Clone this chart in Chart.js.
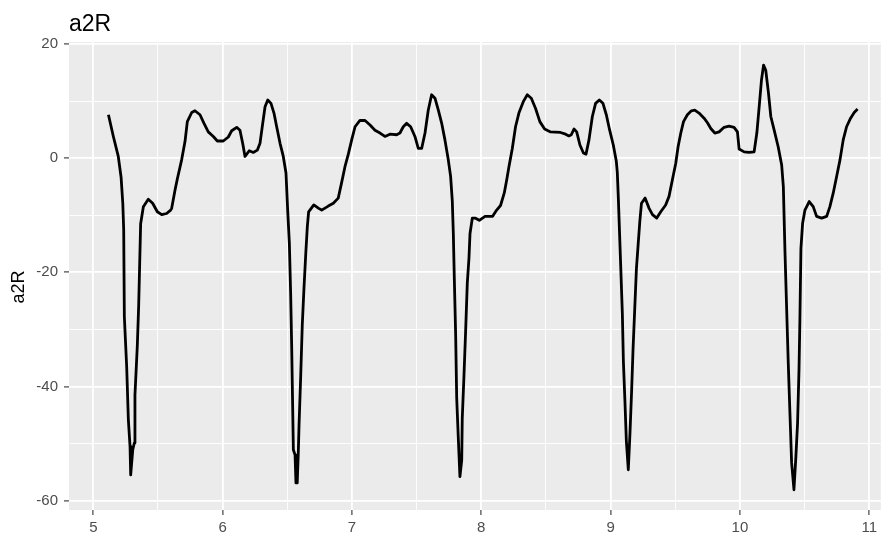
<!DOCTYPE html>
<html><head><meta charset="utf-8">
<script src="https://cdn.jsdelivr.net/npm/chart.js@4.4.1/dist/chart.umd.min.js"></script>
<style>html,body{margin:0;padding:0;background:#fff;} canvas{display:block;}</style>
</head><body>
<canvas id="c" width="881" height="538"></canvas>
<script>
const chartTitle = 'a2R';
const yAxisLabel = 'a2R';
const xMajorTicks = [5, 6, 7, 8, 9, 10, 11];
const xMinorTicks = [5.5, 6.5, 7.5, 8.5, 9.5, 10.5];
const yMajorTicks = [-60, -40, -20, 0, 20];
const yMinorTicks = [-50, -30, -10, 10];

const timeX = [
5.117,5.155,5.193,5.215,5.228,5.235,5.240,5.258,5.271,5.284,5.289,5.305,5.317,5.322,5.340,5.351,5.359,5.366,5.387,5.425,
5.459,5.495,5.529,5.567,5.598,5.606,5.632,5.650,5.683,5.709,5.727,5.761,5.786,5.825,5.856,5.889,5.928,5.959,6.005,6.044,
6.070,6.109,6.134,6.155,6.173,6.206,6.237,6.268,6.289,6.310,6.328,6.349,6.374,6.397,6.418,6.444,6.469,6.490,6.503,6.516,
6.526,6.534,6.547,6.560,6.567,6.577,6.585,6.591,6.604,6.616,6.629,6.643,6.655,6.665,6.705,6.743,6.766,6.817,6.856,6.894,
6.921,6.946,6.972,6.998,7.024,7.062,7.101,7.140,7.178,7.217,7.255,7.294,7.346,7.371,7.397,7.423,7.454,7.487,7.513,7.539,
7.565,7.590,7.616,7.642,7.668,7.694,7.719,7.745,7.763,7.776,7.784,7.791,7.802,7.810,7.822,7.835,7.849,7.853,7.866,7.879,
7.892,7.905,7.913,7.931,7.952,7.985,8.029,8.088,8.119,8.149,8.178,8.197,8.214,8.240,8.265,8.291,8.325,8.356,8.387,8.420,
8.453,8.490,8.536,8.613,8.652,8.678,8.696,8.717,8.738,8.763,8.790,8.810,8.833,8.859,8.884,8.913,8.941,8.967,8.993,9.021,
9.044,9.052,9.060,9.070,9.078,9.091,9.099,9.111,9.122,9.137,9.150,9.163,9.174,9.187,9.200,9.213,9.226,9.239,9.267,9.298,
9.324,9.357,9.388,9.426,9.452,9.478,9.504,9.522,9.543,9.564,9.594,9.625,9.651,9.684,9.723,9.749,9.775,9.806,9.839,9.878,
9.916,9.955,9.981,9.994,10.033,10.071,10.110,10.131,10.149,10.167,10.183,10.200,10.221,10.239,10.265,10.296,10.323,10.336,10.349,10.361,
10.374,10.387,10.400,10.418,10.433,10.446,10.457,10.464,10.472,10.485,10.503,10.536,10.567,10.593,10.632,10.671,10.696,10.722,10.748,10.774,
10.799,10.825,10.856,10.884,10.910
];
const a2R = [
7.6,3.8,0.3,-3.4,-7.9,-12.6,-27.8,-36.5,-45.8,-50.5,-55.5,-51.1,-49.9,-41.5,-33.0,-25.7,-18.1,-11.5,-8.5,-7.2,
-7.9,-9.4,-9.9,-9.7,-9.1,-8.8,-5.6,-3.6,-0.3,2.9,6.4,8.0,8.3,7.6,6.1,4.6,3.8,3.0,3.0,3.7,
4.8,5.4,4.9,2.6,0.3,1.3,1.0,1.4,2.6,6.1,9.0,10.2,9.6,7.9,5.5,2.6,0.3,-2.6,-9.1,-14.9,
-23.7,-33.0,-51.1,-52.0,-56.9,-56.9,-51.7,-46.7,-38.0,-29.2,-22.8,-16.7,-12.0,-9.4,-8.2,-8.8,-9.1,-8.4,-7.9,-7.0,
-4.2,-1.5,0.7,3.2,5.5,6.6,6.6,5.8,4.9,4.4,3.8,4.2,4.1,4.4,5.5,6.1,5.5,3.8,1.7,1.7,
4.4,8.4,11.1,10.5,8.4,6.1,3.2,-0.3,-3.2,-7.5,-13.2,-20.5,-31.0,-42.0,-48.8,-55.8,-52.9,-45.6,-38.3,-30.4,
-21.9,-17.5,-13.2,-10.5,-10.5,-10.9,-10.2,-10.2,-9.1,-8.3,-6.1,-3.8,-1.5,1.7,5.5,7.9,9.9,11.1,10.5,8.7,
6.4,5.1,4.6,4.5,4.2,3.9,4.1,5.1,4.6,2.3,0.9,0.7,3.2,7.3,9.6,10.2,9.6,7.6,4.9,2.3,
-0.5,-2.5,-7.0,-13.5,-18.7,-27.2,-35.6,-42.6,-49.6,-54.6,-48.2,-40.6,-33.3,-26.3,-19.3,-15.2,-11.1,-7.9,-7.0,-8.8,
-9.9,-10.5,-9.4,-8.2,-6.7,-3.8,-0.9,2.0,4.4,6.4,7.6,8.3,8.4,7.9,7.0,6.2,5.2,4.4,4.6,5.4,
5.6,5.4,4.6,1.6,1.1,1.0,1.1,4.4,9.0,13.7,16.3,15.4,11.4,7.3,4.9,2.0,-1.2,-5.0,-16.7,-26.0,
-35.9,-44.7,-53.4,-58.1,-52.3,-46.4,-37.1,-28.3,-15.8,-11.4,-9.1,-7.6,-8.5,-10.2,-10.5,-10.2,-8.5,-6.1,-3.2,-0.3,
3.2,5.5,7.0,8.0,8.6
];

const points = timeX.map((x, i) => ({x: x, y: a2R[i]}));
const FONT = '"Liberation Sans", Arial, sans-serif';

const decorations = {
  id: 'decorations',
  beforeDraw(chart) {
    const {ctx, chartArea: a} = chart;
    ctx.save();
    ctx.fillStyle = '#ffffff';
    ctx.fillRect(0, 0, chart.width, chart.height);
    ctx.fillStyle = '#EBEBEB';
    ctx.fillRect(a.left, a.top, a.right - a.left, a.bottom - a.top);
    ctx.restore();
  },
  afterDraw(chart) {
    const {ctx, chartArea: a} = chart;
    ctx.save();
    ctx.fillStyle = '#000000';
    ctx.font = '23px ' + FONT;
    ctx.textBaseline = 'alphabetic';
    ctx.textAlign = 'left';
    ctx.fillText(chartTitle, a.left, 31);
    ctx.translate(19, 287);
    ctx.rotate(-Math.PI / 2);
    ctx.font = '18px ' + FONT;
    ctx.textAlign = 'center';
    ctx.textBaseline = 'middle';
    ctx.fillText(yAxisLabel, 0, 0);
    ctx.restore();
  }
};

function isIn(arr, v) { return arr.some(m => Math.abs(m - v) < 1e-9); }

new Chart(document.getElementById('c'), {
  type: 'line',
  data: {
    datasets: [{
      data: points,
      borderColor: '#000000',
      borderWidth: 2.8,
      pointRadius: 0,
      tension: 0,
      fill: false,
      borderJoinStyle: 'round'
    }]
  },
  plugins: [decorations],
  options: {
    responsive: false,
    animation: false,
    devicePixelRatio: 1,
    layout: {padding: {top: 42, left: 0, right: 0, bottom: 0}},
    plugins: {legend: {display: false}, tooltip: {enabled: false}},
    scales: {
      x: {
        type: 'linear',
        min: 4.812,
        max: 11.09,
        afterFit: s => { s.height = 28; },
        afterBuildTicks: s => { s.ticks = xMajorTicks.concat(xMinorTicks).sort((a,b)=>a-b).map(v => ({value: v})); },
        border: {display: false},
        grid: {
          color: '#ffffff',
          lineWidth: c => isIn(xMajorTicks, c.tick.value) ? 1.8 : 0.9,
          drawTicks: true,
          tickLength: 5,
          tickWidth: 1.1,
          tickColor: c => isIn(xMajorTicks, c.tick.value) ? '#333333' : 'rgba(0,0,0,0)'
        },
        ticks: {
          autoSkip: false,
          maxRotation: 0,
          padding: 4,
          color: '#4D4D4D',
          font: {family: FONT, size: 15},
          callback: v => isIn(xMajorTicks, v) ? String(v) : ''
        }
      },
      y: {
        type: 'linear',
        min: -61.65,
        max: 20.35,
        afterFit: s => { s.width = 69; },
        afterBuildTicks: s => { s.ticks = yMajorTicks.concat(yMinorTicks).sort((a,b)=>a-b).map(v => ({value: v})); },
        border: {display: false},
        grid: {
          color: '#ffffff',
          lineWidth: c => isIn(yMajorTicks, c.tick.value) ? 1.8 : 0.9,
          drawTicks: true,
          tickLength: 5,
          tickWidth: 1.1,
          tickColor: c => isIn(yMajorTicks, c.tick.value) ? '#333333' : 'rgba(0,0,0,0)'
        },
        ticks: {
          autoSkip: false,
          padding: 6,
          color: '#4D4D4D',
          font: {family: FONT, size: 15},
          callback: v => isIn(yMajorTicks, v) ? String(v) : ''
        }
      }
    }
  }
});
</script>
</body></html>
